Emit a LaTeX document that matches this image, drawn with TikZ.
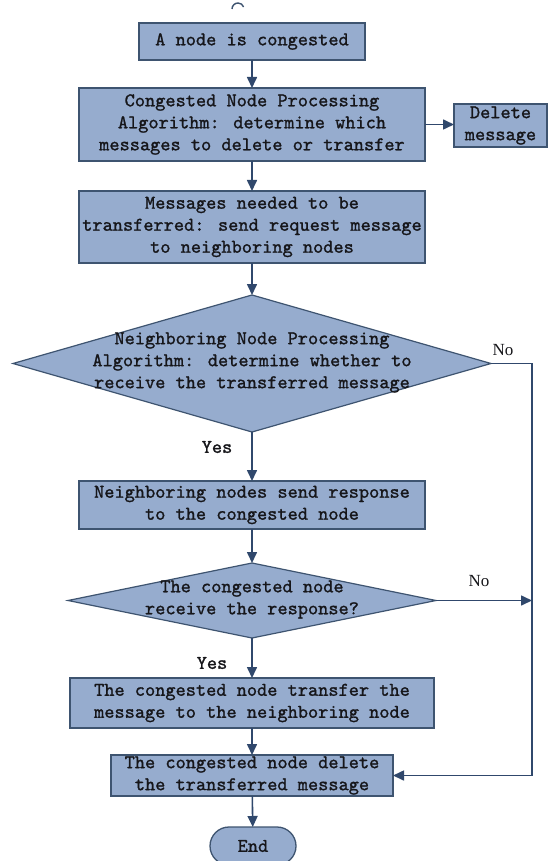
\documentclass[tikz,border=0pt]{standalone}
\usepackage{fontspec}
\newfontfamily\serf{Liberation Serif}
\newfontfamily\monof[FakeBold=1.2]{lmmono10-regular.otf}
\usetikzlibrary{shapes.geometric,shapes.misc,arrows.meta}
\definecolor{boxfill}{RGB}{150,172,206}
\definecolor{boxedge}{RGB}{62,84,112}
\definecolor{arrowc}{RGB}{48,72,108}
\definecolor{txtc}{RGB}{22,22,26}
\begin{document}
\begin{tikzpicture}[x=1pt,y=-1pt,
  mono/.style={font=\monof\fontsize{19.4}{22}\selectfont, text=txtc},
  proc/.style={rectangle, draw=boxedge, fill=boxfill, line width=1.3pt, inner sep=0pt, outer sep=0pt, align=center, mono},
  dec/.style={diamond, draw=boxedge, fill=boxfill, line width=1.2pt, inner sep=0pt, outer sep=0pt},
  dtxt/.style={align=center, inner sep=0pt, mono},
  term/.style={rounded rectangle, draw=boxedge, fill=boxfill, line width=1.3pt, inner sep=0pt, outer sep=0pt, mono},
  flow/.style={draw=arrowc, line width=1.6pt, -{Triangle[length=11pt,width=10pt]}},
  nolab/.style={font=\serf\fontsize{17}{18}\selectfont, text=txtc, inner sep=0pt},
  yeslab/.style={mono, inner sep=0pt}]
\fill[white] (0,0) rectangle (554,861);
\useasboundingbox (0,0) rectangle (554,861);

\draw[boxedge, line width=1.4pt] (232,9) arc[start angle=180, end angle=340, radius=6];

\node[proc, minimum width=226pt, minimum height=37pt] (b1) at (252,41.5) {A node is congested};
\node[proc, minimum width=346pt, minimum height=73pt] (b2) at (252,124.5) {Congested Node Processing\\Algorithm: determine which\\messages to delete or transfer};
\node[proc, minimum width=93pt, minimum height=43pt] (del) at (500.5,125.5) {Delete\\message};
\node[proc, minimum width=346pt, minimum height=72pt] (b3) at (252,227) {Messages needed to be\\transferred: send request message\\to neighboring nodes};
\node[dec, minimum width=478pt, minimum height=137pt] (d1) at (252,363.5) {};
\node[dtxt] (d1t) at (252,362.5) {Neighboring Node Processing\\Algorithm: determine whether to\\receive the transferred message};
\node[proc, minimum width=346pt, minimum height=48pt] (b4) at (252,505) {Neighboring nodes send response\\to the congested node};
\node[dec, minimum width=368pt, minimum height=75pt] (d2) at (252,600.5) {};
\node[dtxt] (d2t) at (252,599.5) {The congested node\\receive the response?};
\node[proc, minimum width=364pt, minimum height=50pt] (b5) at (252,703) {The congested node transfer the\\message to the neighboring node};
\node[proc, minimum width=282pt, minimum height=41pt] (b6) at (252,775.5) {The congested node delete\\the transferred message};
\node[term, minimum width=86pt, minimum height=38pt] (end) at (253,846) {End};

\node[yeslab] (y1) at (217,447) {Yes};
\node[yeslab] (y2) at (212,663) {Yes};
\node[nolab] (n1) at (503,350) {No};
\node[nolab] (n2) at (479,581) {No};

\coordinate (rx) at (532,0);

\draw[flow] (b1) -- (b2);
\draw[flow] (b2.east) -- (b2.east -| del.west);
\draw[flow] (b2) -- (b3);
\draw[flow] (b3) -- (d1);
\draw[flow] (d1) -- (b4);
\draw[flow] (b4) -- (d2);
\draw[flow] (d2) -- (b5);
\draw[flow] (b5) -- (b6);
\draw[flow] (b6) -- (end);
\draw[flow] (d1.east) -- (d1.east -| rx) |- (b6.east);
\draw[flow] (d2.east) -- (d2.east -| rx);
\end{tikzpicture}
\end{document}
